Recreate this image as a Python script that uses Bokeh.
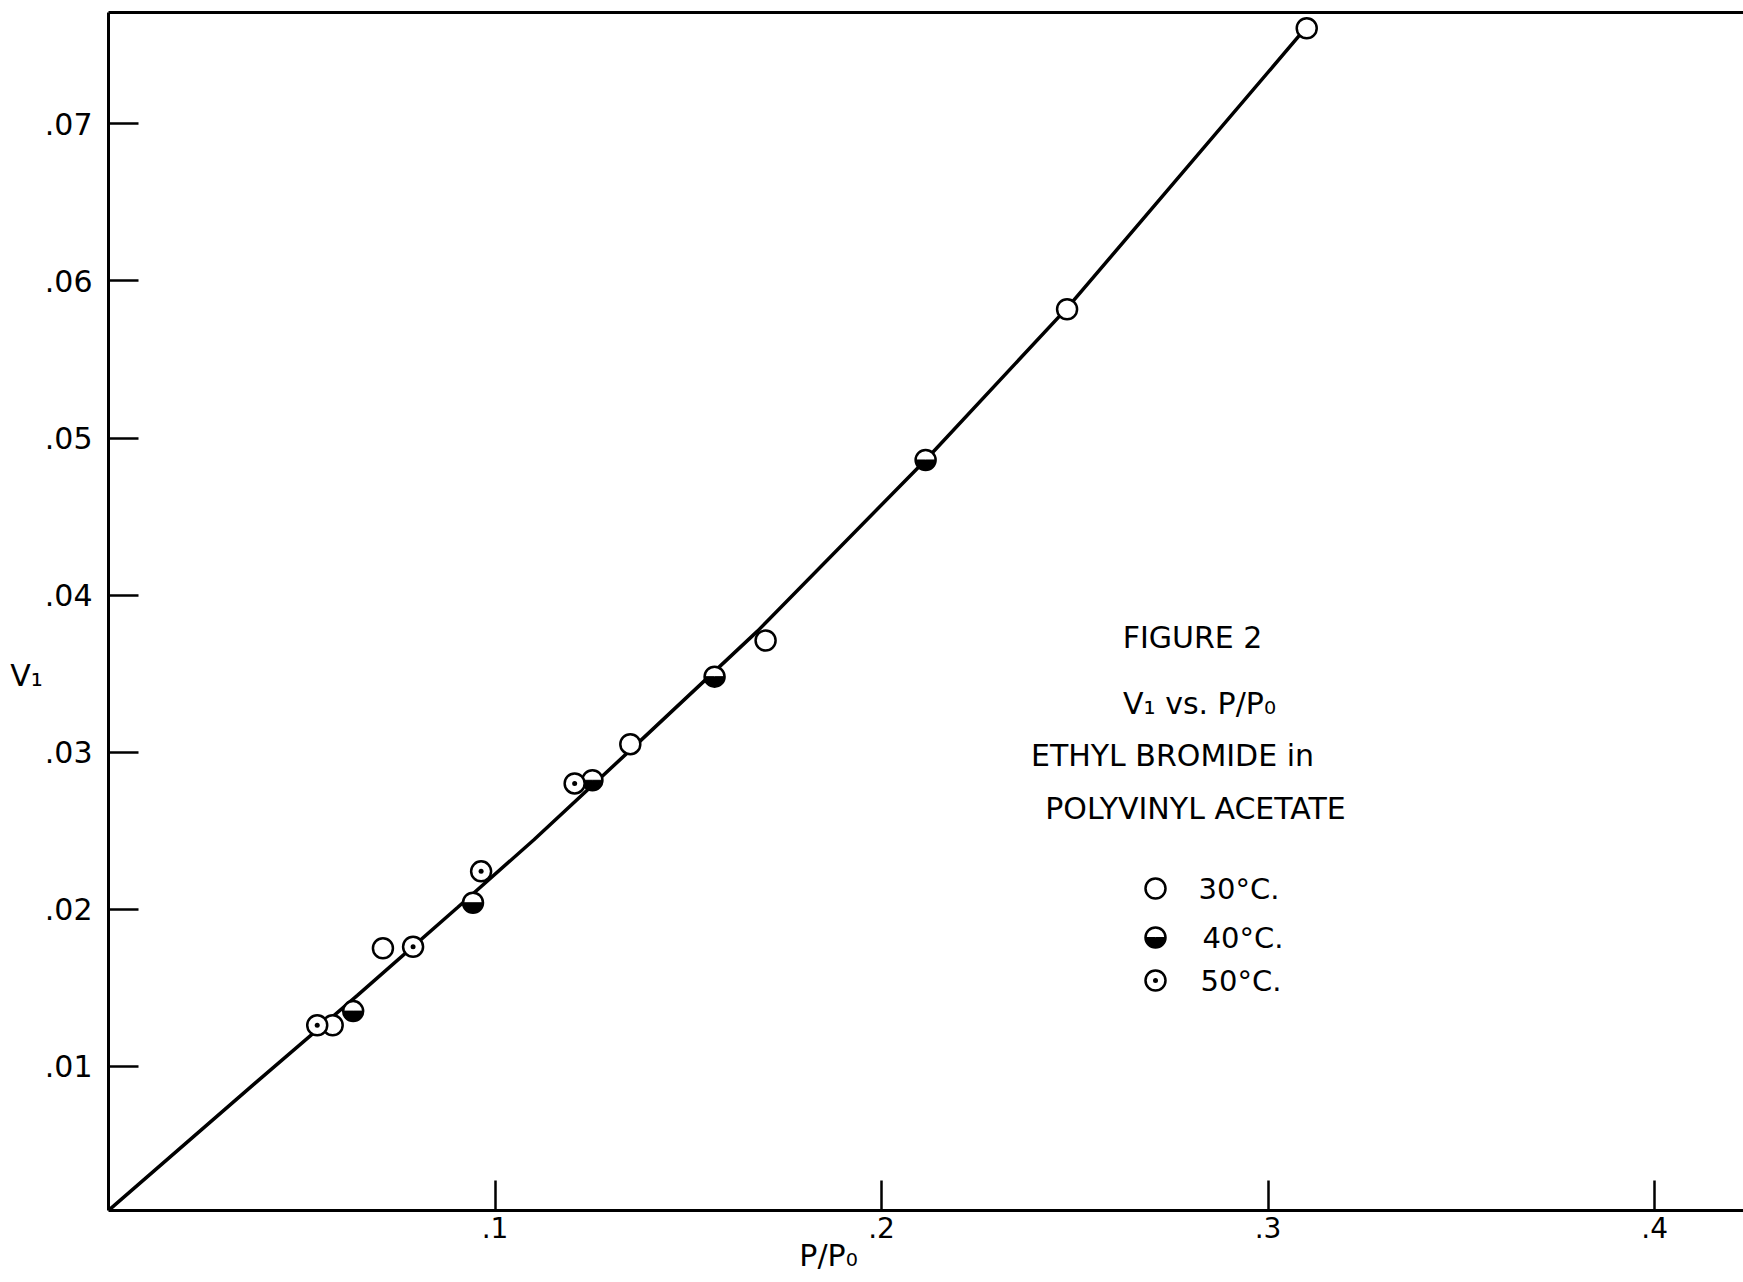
import math

from bokeh.embed import file_html
from bokeh.models import FixedTicker, Label, LinearAxis, Range1d
from bokeh.plotting import figure
from bokeh.resources import INLINE

# Sorption of ethyl bromide in polyvinyl acetate: V1 against P/P0
p30_x = [0.058, 0.071, 0.135, 0.170, 0.248, 0.310]
p30_y = [0.0126, 0.0175, 0.0305, 0.0371, 0.0582, 0.0761]

p40_x = [0.0633, 0.0943, 0.1252, 0.1568, 0.2114]
p40_y = [0.0135, 0.0204, 0.0282, 0.0348, 0.0486]

p50_x = [0.0540, 0.0788, 0.0964, 0.1206]
p50_y = [0.0126, 0.0176, 0.0224, 0.0280]

# hand-drawn curve through the points
curve_x = [0.0, 0.0393, 0.0644, 0.0903, 0.1100, 0.1371, 0.1679, 0.2114, 0.2481, 0.3097]
curve_y = [0.0008, 0.0092, 0.0145, 0.0201, 0.0244, 0.0306, 0.0377, 0.0486, 0.0583, 0.0761]

x_ticks = [0.1, 0.2, 0.3, 0.4]
x_tick_labels = [".1", ".2", ".3", ".4"]
y_ticks = [0.01, 0.02, 0.03, 0.04, 0.05, 0.06, 0.07]
y_tick_labels = [".01", ".02", ".03", ".04", ".05", ".06", ".07"]

legend_labels = ["30°C.", "40°C.", "50°C."]
title_lines = ["FIGURE 2", "V\u2081 vs. P/P\u2080", "ETHYL BROMIDE in", "POLYVINYL ACETATE"]
x_title = "P/P\u2080"
y_title = "V\u2081"

# page geometry (pixels)
W, H = 1743, 1282
FRAME_LEFT, FRAME_TOP, FRAME_BOTTOM = 108, 12, 1210
X0, X1 = 0.0, 0.423
Y0, Y1 = 0.0008, 0.0771
FONT = "DejaVu Sans"
MARK = 20

p = figure(
    width=W, height=H,
    x_range=Range1d(X0, X1), y_range=Range1d(Y0, Y1),
    output_backend="svg", toolbar_location=None,
    min_border_left=FRAME_LEFT, min_border_right=0,
    min_border_top=FRAME_TOP, min_border_bottom=H - FRAME_BOTTOM,
    background_fill_color="white", border_fill_color="white",
)
p.outline_line_color = None
p.grid.visible = False


def style_axis(ax, ticks, labels, standoff, size):
    ax.ticker = FixedTicker(ticks=ticks)
    ax.major_label_overrides = dict(zip(ticks, labels))
    ax.axis_line_width = 3
    ax.axis_line_color = "black"
    ax.major_tick_in = 30
    ax.major_tick_out = 0
    ax.major_tick_line_width = 2.5
    ax.major_tick_line_color = "black"
    ax.minor_tick_line_color = None
    ax.major_label_standoff = standoff
    ax.major_label_text_font = FONT
    ax.major_label_text_font_size = size
    ax.major_label_text_color = "black"


style_axis(p.xaxis[0], x_ticks, x_tick_labels, 6, "28px")
style_axis(p.yaxis[0], y_ticks, y_tick_labels, 16, "30px")

# plain border line along the top
top = LinearAxis(
    ticker=FixedTicker(ticks=[]), axis_line_width=3, axis_line_color="black",
    major_tick_line_color=None, minor_tick_line_color=None,
    major_label_text_font_size="0px", major_label_standoff=0,
)
p.add_layout(top, "above")

# curve and data points
p.line(curve_x, curve_y, line_color="black", line_width=3.5)

p.scatter(p30_x, p30_y, marker="circle", size=MARK, fill_color="white",
          line_color="black", line_width=2.5)
p.scatter(p40_x, p40_y, marker="circle", size=MARK, fill_color="white",
          line_color="black", line_width=2.5)
p.wedge(p40_x, p40_y, radius=MARK / 2 - 0.5, radius_units="screen",
        start_angle=math.pi, end_angle=2 * math.pi,
        fill_color="black", line_color="black", line_width=1)
p.scatter(p50_x, p50_y, marker="circle_dot", size=MARK, fill_color="white",
          line_color="black", line_width=2.5)


# page pixels -> data coordinates, for items placed by page position
def data_x(px):
    return X0 + (px - FRAME_LEFT) * (X1 - X0) / (W - FRAME_LEFT)


def data_y(py):
    return Y0 + (FRAME_BOTTOM - py) * (Y1 - Y0) / (FRAME_BOTTOM - FRAME_TOP)


# key for the three temperatures
KEY_PX = 1155
KEY_ROWS = [888, 937, 980]
kx = data_x(KEY_PX)
ky = [data_y(r) for r in KEY_ROWS]

p.scatter([kx], [ky[0]], marker="circle", size=MARK, fill_color="white",
          line_color="black", line_width=2.5)
p.scatter([kx], [ky[1]], marker="circle", size=MARK, fill_color="white",
          line_color="black", line_width=2.5)
p.wedge([kx], [ky[1]], radius=MARK / 2 - 0.5, radius_units="screen",
        start_angle=math.pi, end_angle=2 * math.pi,
        fill_color="black", line_color="black", line_width=1)
p.scatter([kx], [ky[2]], marker="circle_dot", size=MARK, fill_color="white",
          line_color="black", line_width=2.5)


def page_label(text, cx, cy, size, align="center"):
    return Label(
        x=data_x(cx), y=data_y(cy),
        text=text, text_align=align, text_baseline="middle",
        text_font=FONT, text_font_size=f"{size}px", text_color="black",
    )


for text, row, left in zip(legend_labels, KEY_ROWS, [1198, 1202, 1200]):
    p.add_layout(page_label(text, left, row, 29, align="left"))

for text, cx, cy in zip(title_lines, [1192, 1199, 1172, 1195], [637, 703, 755, 808]):
    p.add_layout(page_label(text, cx, cy, 30))

# axis titles sit in the side panels so they are drawn outside the frame
p.add_layout(page_label(y_title, 26, 675, 30), "left")
p.add_layout(page_label(x_title, 828, 1255, 30), "below")

open("out.html", "w").write(file_html(p, INLINE))
